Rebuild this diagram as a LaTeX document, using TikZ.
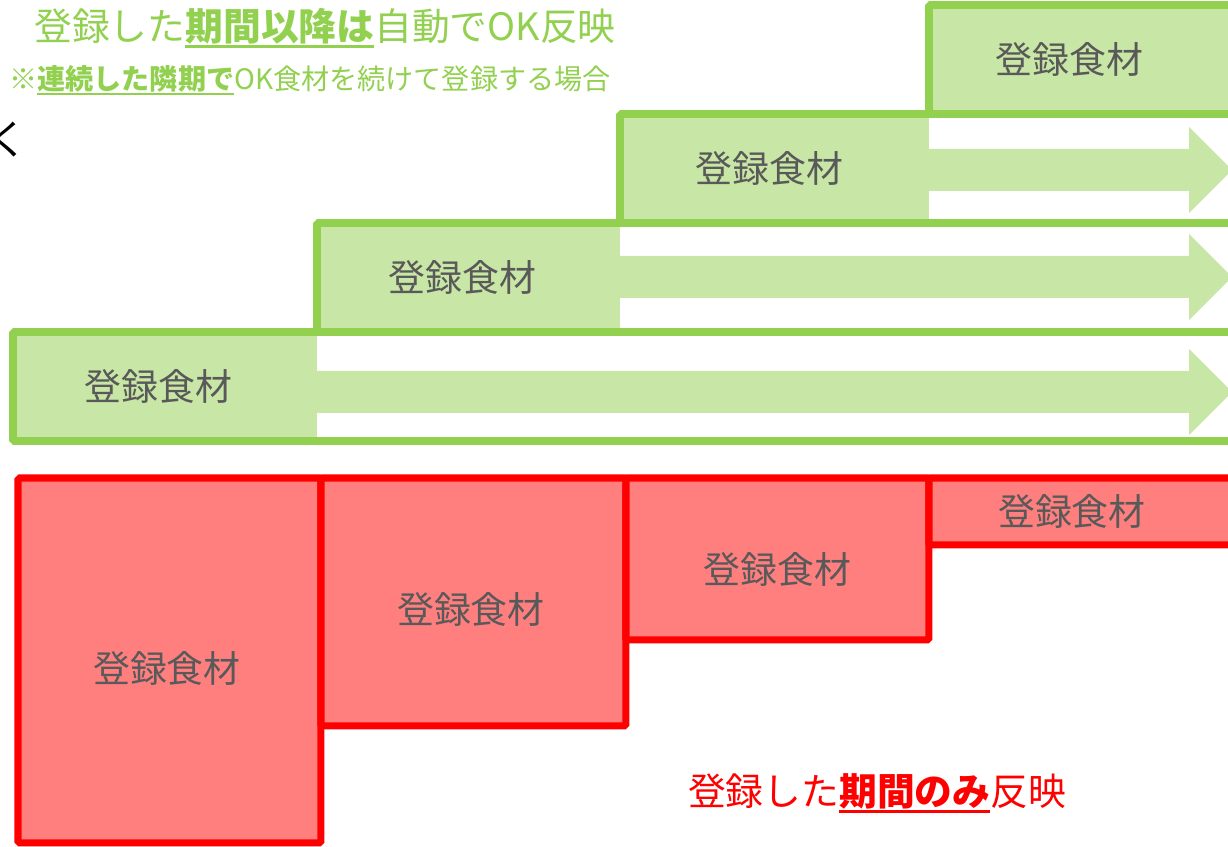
\documentclass[tikz,border=0pt]{standalone}
\usepackage{fontspec}
\setmainfont{Noto Sans CJK JP}
\usepackage{tikz}
\usetikzlibrary{calc,positioning}
\definecolor{okgreen}{HTML}{92D050}
\definecolor{okfill}{HTML}{C8E6A6}
\definecolor{ngred}{HTML}{FF0000}
\definecolor{ngfill}{HTML}{FF7F7F}
\definecolor{labelgray}{HTML}{595959}
\newcommand{\ulbf}[1]{\setbox0=\hbox{\bfseries #1}\rlap{\rule[-0.2em]{\wd0}{0.07em}}\box0}
\newcommand{\lowered}[2]{\raisebox{-#1}[\height][\depth]{#2}}
\tikzset{%
    okrow/.style={%
        draw=okgreen, line width=4.5pt, rounded corners=1pt
    },
    okfood/.style={%
        rectangle, anchor=north west, fill=okfill, inner sep=0pt, outer sep=0pt, minimum height=2.18cm, text=labelgray, font=\fontsize{21}{25}\selectfont
    },
    okarrow/.style={%
        fill=okfill
    },
    ngfood/.style={%
        rectangle, anchor=north west, draw=ngred, fill=ngfill, line width=4pt, rounded corners=1pt, inner sep=0pt, outer sep=0pt, text=labelgray, font=\fontsize{21}{25}\selectfont
    },
    txt/.style={%
        inner sep=0pt, font=\fontsize{21.5}{26}\selectfont
    },
    smalltxt/.style={%
        inner sep=0pt, font=\fontsize{16}{19}\selectfont
    },
}

\begin{document}
\begin{tikzpicture}[x=0.02cm, y=-0.02cm]
      \useasboundingbox (0,0) rectangle (1228,847);

      % green rows: fills and arrows first
      \node[okfood, minimum width=6.08cm] (okA) at (13,332) {\hspace*{-0.25cm}登録食材};
      \node[okfood, minimum width=6.06cm] (okB) at (317,223) {\hspace*{-0.25cm}登録食材};
      \node[okfood, minimum width=6.18cm] (okC) at (620,114) {\hspace*{-0.2cm}登録食材};
      \node[okfood, minimum width=6.22cm] (okD) at (929,5) {\hspace*{-0.6cm}登録食材};
      \fill[okarrow] (317,371) -- (1189,371) -- (1189,349) -- (1232,392) -- (1189,435) -- (1189,413) -- (317,413) -- cycle;
      \fill[okarrow] (620,256) -- (1189,256) -- (1189,234) -- (1232,277) -- (1189,320) -- (1189,298) -- (620,298) -- cycle;
      \fill[okarrow] (929,149) -- (1189,149) -- (1189,127) -- (1232,170) -- (1189,213) -- (1189,191) -- (929,191) -- cycle;
      \draw[okrow] (13,332) rectangle (1245,441);
      \draw[okrow] (317,223) rectangle (1245,332);
      \draw[okrow] (620,114) rectangle (1245,223);
      \draw[okrow] (929,5) rectangle (1245,114);

      % red rows
      \node[ngfood, minimum width=6.06cm, minimum height=7.3cm] (ngA) at (18,478) {\lowered{0.16cm}{\hspace*{-0.1cm}登録食材}};
      \node[ngfood, minimum width=6.1cm, minimum height=4.96cm] (ngB) at (321,478) {\lowered{0.14cm}{\hspace*{-0.1cm}登録食材}};
      \node[ngfood, minimum width=6.06cm, minimum height=3.24cm] (ngC) at (626,478) {\lowered{0.2cm}{登録食材}};
      \node[ngfood, minimum width=6.32cm, minimum height=1.34cm] (ngD) at (929,478) {\hspace*{-0.6cm}登録食材};

      \node[txt, text=okgreen] (title) at (325,28) {登録した\ulbf{期間以降は}自動でOK反映};
      \node[smalltxt, text=okgreen] (cond) at (310,80) {※\ulbf{連続した隣期で}OK食材を続けて登録する場合};
      \node[txt, text=ngred] (onlynote) at (877,793) {登録した\ulbf{期間のみ}反映};
      \node[txt, font=\fontsize{23}{27}\selectfont] (kana) at (8,140) {く};
    \end{tikzpicture}
\end{document}
